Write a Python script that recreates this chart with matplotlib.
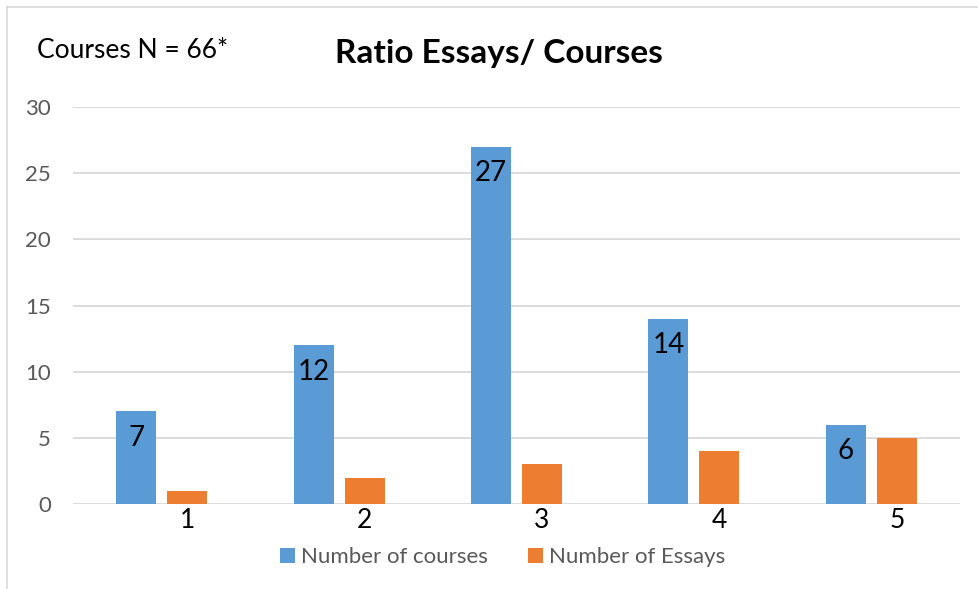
import matplotlib
matplotlib.use("Agg")
import matplotlib.pyplot as plt
import numpy as np

categories = ["1", "2", "3", "4", "5"]
courses = [7, 12, 27, 14, 6]
essays = [1, 2, 3, 4, 5]

blue = "#5B9BD5"
orange = "#ED7D31"
grey_txt = "#595959"

plt.rcParams['font.family'] = ['Lato', 'DejaVu Sans']

fig = plt.figure(figsize=(9.79, 5.89), dpi=100)
ax = fig.add_axes([73/979, 1-504/589, 887/979, 397/589])

x = np.arange(len(categories))
w = 0.225
off = 0.1437
b1 = ax.bar(x - off, courses, w, color=blue, label="Number of courses", zorder=3)
b2 = ax.bar(x + off, essays, w, color=orange, label="Number of Essays", zorder=3)

for rect, v in zip(b1, courses):
    ax.annotate(str(v), (rect.get_x() + rect.get_width()/2, v),
                xytext=(0, -19), textcoords="offset points",
                ha="center", va="center", fontsize=20, color="black", zorder=4)

ax.set_xlim(-0.5, len(categories) - 0.5)
ax.set_ylim(0, 30)
ax.set_yticks(range(0, 31, 5))
ax.yaxis.grid(True, color="#D9D9D9", linewidth=1.3, zorder=0)
ax.set_xticks(x + off)
ax.set_xticklabels(categories, fontsize=19, color="black")
ax.tick_params(axis="y", labelsize=16, labelcolor=grey_txt, length=0, pad=16)
ax.tick_params(axis="x", length=0, pad=3)
for s in ax.spines.values():
    s.set_visible(False)

fig.text(499/979, 1-53/589, "Ratio Essays/ Courses", ha="center", va="center",
         fontsize=24, fontweight="bold")
fig.text(37/979, 1-50/589, "Courses N = 66*", ha="left", va="center", fontsize=19)

fig.legend(loc="center", bbox_to_anchor=(503/979, 1-557/589), ncol=2, frameon=False,
           fontsize=16, labelcolor=grey_txt, handlelength=0.65, handleheight=0.65,
           handletextpad=0.3, columnspacing=1.8)

# chart border (top and left edges visible)
fig.add_artist(plt.Line2D([7/979, 1], [1-7/589, 1-7/589], color="#D9D9D9", linewidth=1.2))
fig.add_artist(plt.Line2D([7/979, 7/979], [0, 1-7/589], color="#D9D9D9", linewidth=1.2))

fig.savefig("out.png", dpi=100)
